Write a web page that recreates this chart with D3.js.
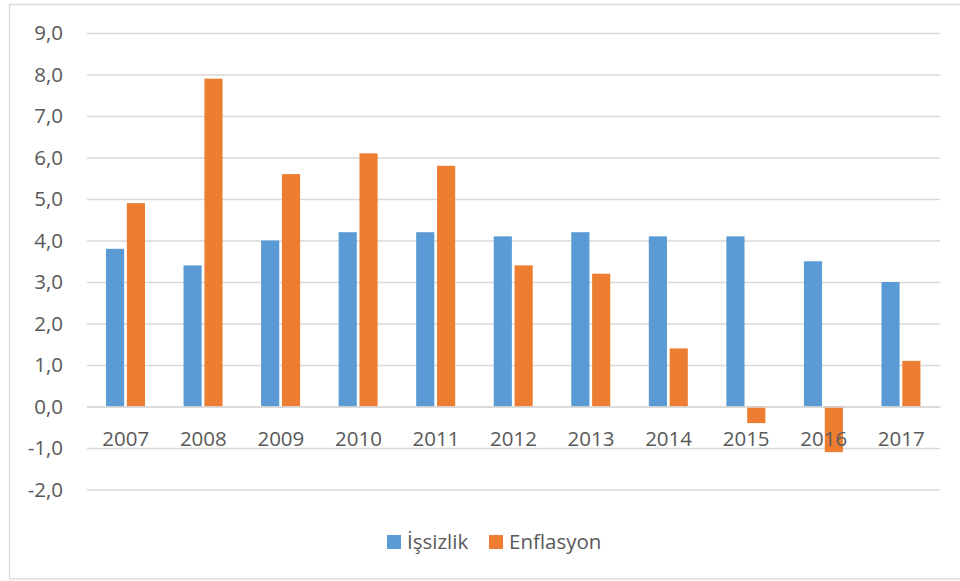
<!DOCTYPE html>
<html><head><meta charset="utf-8">
<script src="https://cdn.jsdelivr.net/npm/d3@7"></script>
<style>body{margin:0;background:#fff}svg{display:block}</style>
</head><body>
<svg id="c" width="960" height="581"></svg>
<script>
const years = ["2007","2008","2009","2010","2011","2012","2013","2014","2015","2016","2017"];
const issizlik = [3.8,3.4,4.0,4.2,4.2,4.1,4.2,4.1,4.1,3.5,3.0];
const enflasyon = [4.9,7.9,5.6,6.1,5.8,3.4,3.2,1.4,-0.4,-1.1,1.1];
const seriesNames = ["İşsizlik","Enflasyon"];
const colors = ["#5b9bd5","#ed7d31"];
const yTicks = [-2,-1,0,1,2,3,4,5,6,7,8,9];

const svg = d3.select("#c");
const font = "'Open Sans', sans-serif";
const textColor = "#595959";
const fs = "20.5px";

svg.append("rect").attr("x",9.5).attr("y",4.5).attr("width",970).attr("height",574.5)
  .attr("fill","#fff").attr("stroke","#d9d9d9").attr("stroke-width",1.3);

const x0 = d3.scaleBand().domain(years).range([87,940]).paddingInner(0).paddingOuter(0);
const y = d3.scaleLinear().domain([-2,9]).range([489.5,33]);
const x1 = d3.scaleBand().domain([0,1]).range([19,58]).paddingInner(0.13);

// gridlines
const yAxis = d3.axisLeft(y).tickValues(yTicks).tickSize(-(940-87)).tickFormat(d => d3.format(".1f")(d).replace(".",",").replace("−","-"));
const ga = svg.append("g").attr("transform","translate(87,0)").call(yAxis);
ga.select(".domain").remove();
ga.selectAll(".tick line").attr("stroke","#d9d9d9").attr("stroke-width",1.3);
ga.selectAll(".tick text").attr("x",-24).attr("fill",textColor).style("font-family",font).style("font-size",fs);

const data = years.map((yr,i)=>({yr, vals:[issizlik[i],enflasyon[i]]}));
const groups = svg.append("g").selectAll("g").data(data).join("g")
  .attr("transform",d=>`translate(${x0(d.yr)},0)`);
groups.selectAll("rect").data(d=>d.vals.map((v,k)=>({v,k}))).join("rect")
  .attr("x",d=>x1(d.k)).attr("width",x1.bandwidth())
  .attr("y",d=>y(Math.max(0,d.v))).attr("height",d=>Math.abs(y(d.v)-y(0)))
  .attr("fill",d=>colors[d.k]);

// x axis labels
const xAxis = d3.axisBottom(x0).tickSize(0);
const gx = svg.append("g").attr("transform",`translate(0,${y(0)})`).call(xAxis);
gx.select(".domain").attr("stroke","#d9d9d9").attr("stroke-width",1.3);
gx.selectAll(".tick text").attr("dy","0").attr("y",39).attr("fill",textColor).style("font-family",font).style("font-size",fs);

// legend
const legX = [387, 489];
const leg = svg.append("g");
seriesNames.forEach((n,i)=>{
  leg.append("rect").attr("x",legX[i]).attr("y",535).attr("width",14).attr("height",14).attr("fill",colors[i]);
  leg.append("text").attr("x",legX[i]+20).attr("y",549).text(n).attr("fill",textColor).style("font-family",font).style("font-size",fs);
});
</script>
</body></html>
